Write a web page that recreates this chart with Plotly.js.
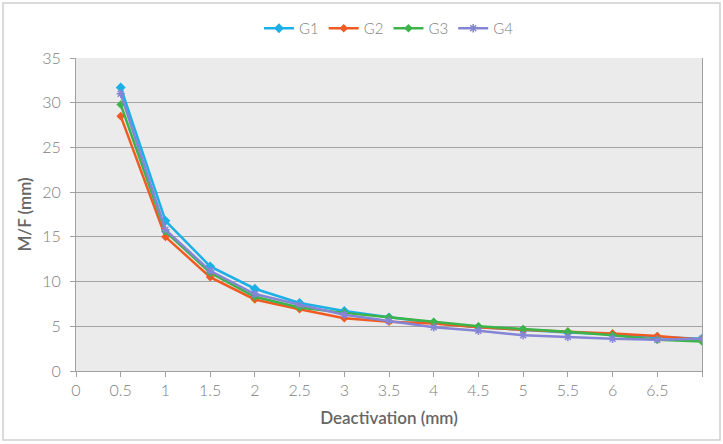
<!DOCTYPE html>
<html>
<head>
<meta charset="utf-8">
<script src="https://cdn.plot.ly/plotly-3.0.1.min.js"></script>
<style>
  html, body { margin: 0; padding: 0; background: #ffffff; }
  #chart { width: 723px; height: 444px; }
</style>
</head>
<body>
<div id="chart"></div>
<script>
// Deactivation steps (mm)
const deactivation = [0.5, 1, 1.5, 2, 2.5, 3, 3.5, 4, 4.5, 5, 5.5, 6, 6.5, 7];

// Moment-to-force ratio (mm) for each group
const g1 = [31.7, 16.8, 11.7, 9.2, 7.6, 6.7, 6.0, 5.4, 4.9, 4.6, 4.3, 4.1, 3.8, 3.6];
const g2 = [28.5, 15.0, 10.5, 8.0, 6.9, 5.9, 5.5, 5.3, 4.9, 4.6, 4.4, 4.2, 3.9, 3.5];
const g3 = [29.8, 15.6, 11.0, 8.3, 7.1, 6.5, 6.0, 5.5, 5.0, 4.7, 4.4, 4.0, 3.5, 3.3];
const g4 = [31.0, 15.8, 11.2, 8.6, 7.4, 6.3, 5.6, 4.9, 4.5, 4.0, 3.8, 3.6, 3.5, 3.6];

const xTickVals = [0, 0.5, 1, 1.5, 2, 2.5, 3, 3.5, 4, 4.5, 5, 5.5, 6, 6.5, 7];
const xTickText = ['0', '0.5', '1', '1.5', '2', '2.5', '3', '3.5', '4', '4.5', '5', '5.5', '6', '6.5', ''];

function series(name, y, color, symbol, size) {
  return {
    type: 'scatter',
    mode: 'lines+markers',
    name: name,
    x: deactivation,
    y: y,
    line: { color: color, width: 2.5 },
    marker: { color: color, symbol: symbol, size: size, line: { color: color, width: 1.5 } }
  };
}

const traces = [
  series('G1', g1, '#1cb0e6', 'diamond', 6),
  series('G2', g2, '#f15a22', 'diamond', 5),
  series('G3', g3, '#3cb44a', 'diamond', 5),
  series('G4', g4, '#8585d6', 'asterisk-open', 7)
];

// plot area spans x 76..702, y 58..371 of the 723x444 figure
const L = 76, R = 21, T = 58, B = 73, W = 723, H = 444;
const pw = W - L - R, ph = H - T - B;

const tickFont = { family: 'Lato, "Open Sans", sans-serif', size: 16, color: '#808080', weight: 300 };
const titleFont = { family: 'Lato, "Open Sans", sans-serif', size: 17, color: '#666666', weight: 600 };

const layout = {
  width: W,
  height: H,
  margin: { l: L, r: R, t: T, b: B, pad: 0 },
  paper_bgcolor: '#ffffff',
  plot_bgcolor: '#ebebeb',
  font: { family: 'Lato, "Open Sans", sans-serif', color: '#808080', size: 15 },
  showlegend: true,
  legend: {
    orientation: 'h',
    x: 0.5, xanchor: 'center',
    y: 1 + (58 - 12) / ph, yanchor: 'top',
    font: { family: 'Lato, "Open Sans", sans-serif', size: 15, color: '#7f7f7f', weight: 300 },
    itemwidth: 30,
    bgcolor: 'rgba(0,0,0,0)'
  },
  xaxis: {
    range: [0, 7],
    tickmode: 'array',
    tickvals: xTickVals,
    ticktext: xTickText,
    ticks: 'outside',
    ticklen: 5,
    tickcolor: '#a0a0a0',
    showgrid: false,
    zeroline: false,
    showline: true,
    linecolor: '#a0a0a0',
    linewidth: 1,
    tickfont: tickFont,
    title: { text: 'Deactivation (mm)', font: titleFont, standoff: 13 }
  },
  yaxis: {
    range: [0, 35],
    dtick: 5,
    ticks: 'outside',
    ticklen: 5,
    tickcolor: '#a0a0a0',
    ticklabelstandoff: 6,
    showgrid: true,
    gridcolor: '#a3a3a3',
    gridwidth: 1,
    zeroline: false,
    showline: true,
    mirror: true,
    linecolor: '#a0a0a0',
    linewidth: 1,
    tickfont: tickFont,
    title: { text: 'M/F (mm)', font: titleFont, standoff: 6 }
  },
  shapes: [{
    type: 'rect',
    xref: 'paper', yref: 'paper',
    x0: (3 - L) / pw, x1: (720 - L) / pw,
    y0: 1 - (440 - T) / ph, y1: 1 - (3 - T) / ph,
    line: { color: '#d0d0d0', width: 1.5 },
    fillcolor: 'rgba(0,0,0,0)',
    layer: 'below'
  }]
};

Plotly.newPlot('chart', traces, layout, { displayModeBar: false, staticPlot: true });
</script>
</body>
</html>
